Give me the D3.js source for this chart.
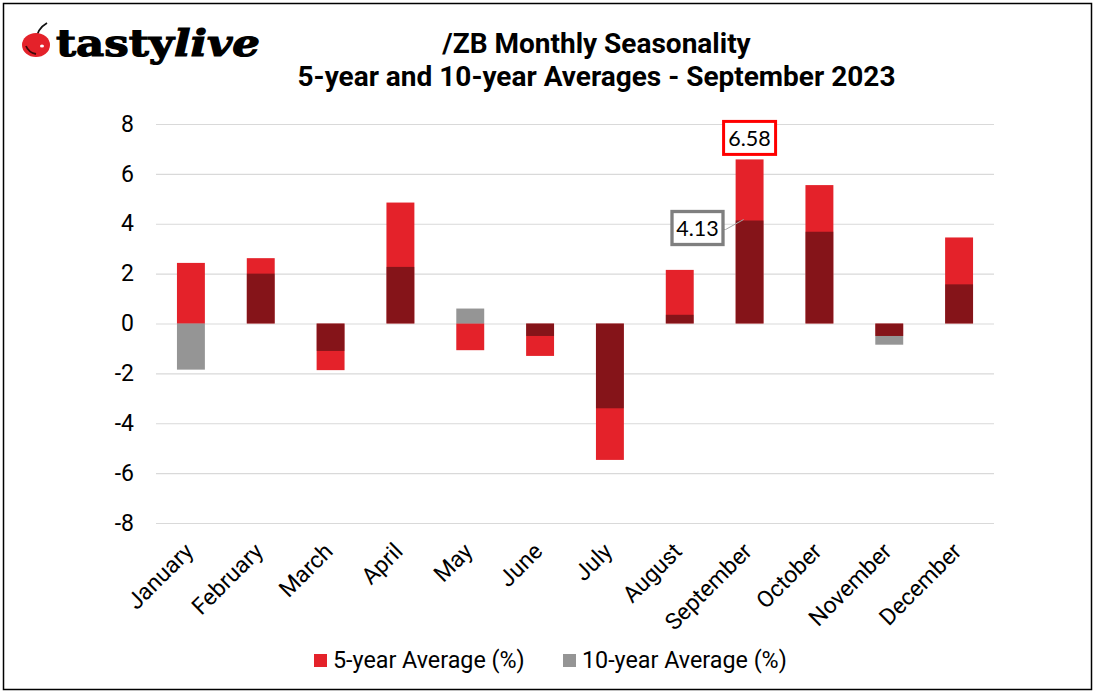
<!DOCTYPE html>
<html><head><meta charset="utf-8">
<script src="https://cdn.jsdelivr.net/npm/d3@7"></script>
<style>
html,body{margin:0;padding:0;background:#fff}
svg{display:block}
text{font-family:Roboto,sans-serif;fill:#000}
</style></head><body>
<svg id="c" width="1095" height="693"></svg>
<script>
const months=["January","February","March","April","May","June","July","August","September","October","November","December"];
const fiveYear=[2.43,2.62,-1.87,4.85,-1.07,-1.3,-5.47,2.15,6.58,5.55,-0.5,3.45];
const tenYear=[-1.85,2.0,-1.1,2.27,0.6,-0.5,-3.4,0.35,4.13,3.68,-0.85,1.57];
const yTicks=[-8,-6,-4,-2,0,2,4,6,8];
const titleLines=["/ZB Monthly Seasonality","5-year and 10-year Averages - September 2023"];
const legendLabels=["5-year Average (%)","10-year Average (%)"];
const RED="#e4222a",GREY="#959595";

const svg=d3.select("#c");
svg.append("rect").attr("x",3.5).attr("y",3.5).attr("width",1088).attr("height",686).attr("fill","#fff").attr("stroke","#000").attr("stroke-width",1.5);

const x=d3.scaleBand().domain(months).range([156,994]).paddingInner(0.6).paddingOuter(0.3);
const y=d3.scaleLinear().domain([-8,8]).range([523,124]);

// grid + y axis
const ya=svg.append("g").attr("transform","translate(156,0)")
  .call(d3.axisLeft(y).tickValues(yTicks).tickSize(-838).tickPadding(22).tickFormat(d=>String(d)));
ya.select(".domain").remove();
ya.selectAll("line").attr("stroke","#d9d9d9").attr("stroke-width",1.2);
ya.selectAll("text").style("font-size","23px").attr("text-anchor","end").attr("dy","0.31em").style("font-family","Roboto");

// bars
const bars=svg.append("g").style("isolation","isolate");
function draw(vals,color,blend){
  bars.append("g").style("mix-blend-mode",blend).selectAll("rect").data(vals).join("rect")
   .attr("x",(d,i)=>x(months[i])).attr("width",x.bandwidth())
   .attr("y",d=>Math.min(y(d),y(0))).attr("height",d=>Math.abs(y(d)-y(0))).attr("fill",color);
}
draw(fiveYear,RED,"normal");
draw(tenYear,GREY,"multiply");

// x labels
svg.append("g").selectAll("text").data(months).join("text")
  .attr("transform",d=>`translate(${x(d)+x.bandwidth()/2-2},547) rotate(-45)`)
  .attr("text-anchor","end").attr("dy","0.35em").style("font-size","23px").text(d=>d);

// title
svg.append("g").selectAll("text").data(titleLines).join("text")
  .attr("x",596.5).attr("y",(d,i)=>53+i*33).attr("text-anchor","middle")
  .style("font-size","28px").style("font-weight",700).text(d=>d);

// callouts
const sepX=x("September"),bw=x.bandwidth();
const redCx=sepX+bw/2;
svg.append("rect").attr("x",redCx-26).attr("y",y(6.58)-38).attr("width",52).attr("height",33)
  .attr("fill","#fff").attr("stroke","#ff0000").attr("stroke-width",3);
svg.append("text").attr("x",redCx).attr("y",y(6.58)-21).attr("dy","0.35em").attr("text-anchor","middle")
  .style("font-family","Lato,Carlito,sans-serif").style("font-size","21.5px").text(fiveYear[8].toFixed(2));
const gy=y(4.13);
svg.append("path").attr("d",`M${sepX-25},${gy+9}L${sepX-10},${gy+9}L${sepX+8},${gy-1}`)
  .attr("fill","none").attr("stroke","#a6a6a6").attr("stroke-width",1);
svg.append("rect").attr("x",672).attr("y",gy-9).attr("width",51).attr("height",33)
  .attr("fill","#fff").attr("stroke","#7f7f7f").attr("stroke-width",3.3);
svg.append("text").attr("x",697.5).attr("y",gy+8).attr("dy","0.35em").attr("text-anchor","middle")
  .style("font-family","Lato,Carlito,sans-serif").style("font-size","21.5px").text(tenYear[8].toFixed(2));

// legend
const lg=svg.append("g");
[[314,RED,333],[563,GREY,582]].forEach((a,i)=>{
  lg.append("rect").attr("x",a[0]).attr("y",654).attr("width",13).attr("height",13).attr("fill",a[1]);
  lg.append("text").attr("x",a[2]).attr("y",660).attr("dy","0.35em").style("font-size","23.3px").text(legendLabels[i]);
});

// logo
const logo=svg.append("g");
logo.append("path").attr("d","M36,42 C36,33 40,27 47,23").attr("fill","none").attr("stroke","#111").attr("stroke-width",1.8);
logo.append("ellipse").attr("cx",36).attr("cy",45).attr("rx",14).attr("ry",12).attr("fill","#e4222a");
logo.append("path").attr("d","M26,46 C28,51 31,53 36,54").attr("fill","none").attr("stroke","#3a0a0a").attr("stroke-width",1.8);
logo.append("ellipse").attr("cx",42).attr("cy",46).attr("rx",2).attr("ry",1.5).attr("fill","#fff");
const lt=logo.append("text").attr("x",56).attr("y",56).attr("textLength",204).attr("lengthAdjust","spacingAndGlyphs")
  .style("font-family","'DejaVu Serif',serif").style("font-size","37px").style("font-weight",700).style("stroke","#000").style("stroke-width",1.2);
lt.append("tspan").text("tasty");
lt.append("tspan").style("font-style","italic").text("live");
</script></body></html>
